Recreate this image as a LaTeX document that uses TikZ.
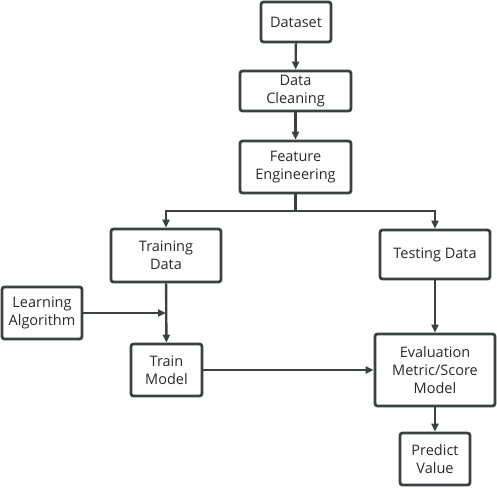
\documentclass[tikz,border=0pt]{standalone}
\usepackage{fontspec}
\setmainfont{Open Sans}
\usepackage{tikz}
\usetikzlibrary{arrows.meta}
\usetikzlibrary{calc}
\definecolor{boxgray}{HTML}{3A4141}
\definecolor{textgray}{HTML}{262A2A}
\begin{document}
\begin{tikzpicture}
[x=1pt,y=-1pt,
  nodedecorate/.style={shape=rectangle,draw=boxgray,line width=2.8pt,rounded corners=2.5pt,
    align=center,inner sep=1pt,text=textgray,font=\fontsize{14.5}{18}\selectfont},%
  linedecorate/.style={-{Triangle[length=8pt,width=7pt]},draw=boxgray,line width=2.4pt}]
\useasboundingbox (0,0) rectangle (497,487);
%% nodes or vertices
\foreach \nodename/\x/\y/\w/\h/\label in {dataset/296/22/70/40/Dataset,
  cleaning/295.5/91/111/40/{Data\\Cleaning},
  feature/295.5/167/111/52/{Feature\\Engineering},
  training/166/255.5/110/53/{Training\\Data},
  testing/435/254.5/110/49/{Testing Data},
  learning/42/313/80/52/{Learning\\Algorithm},
  trainmodel/166.5/370/71/52/{Train\\Model},
  evaluation/435/370/120/72/{Evaluation\\Metric/Score\\Model},
  predict/435/459/70/52/{Predict\\Value}}
{
  \node (\nodename) at (\x,\y) [nodedecorate,minimum width=\w pt,minimum height=\h pt] {\label};
}
%% split and join points
\coordinate (split) at (feature.south |- 0,211);
\coordinate (join) at (training.south |- learning.east);
%% edges or lines
\path
\foreach \startnode/\endnode in {dataset/cleaning, cleaning/feature, training/trainmodel,
  testing/evaluation, evaluation/predict, trainmodel/evaluation}
{
  (\startnode) edge[linedecorate] (\endnode)
};
\draw[linedecorate] (feature.south) -- (split) -| (training.north);
\draw[linedecorate] (split) -| (testing.north);
\draw[linedecorate] (learning.east) -- (join);
\end{tikzpicture}
\end{document}
